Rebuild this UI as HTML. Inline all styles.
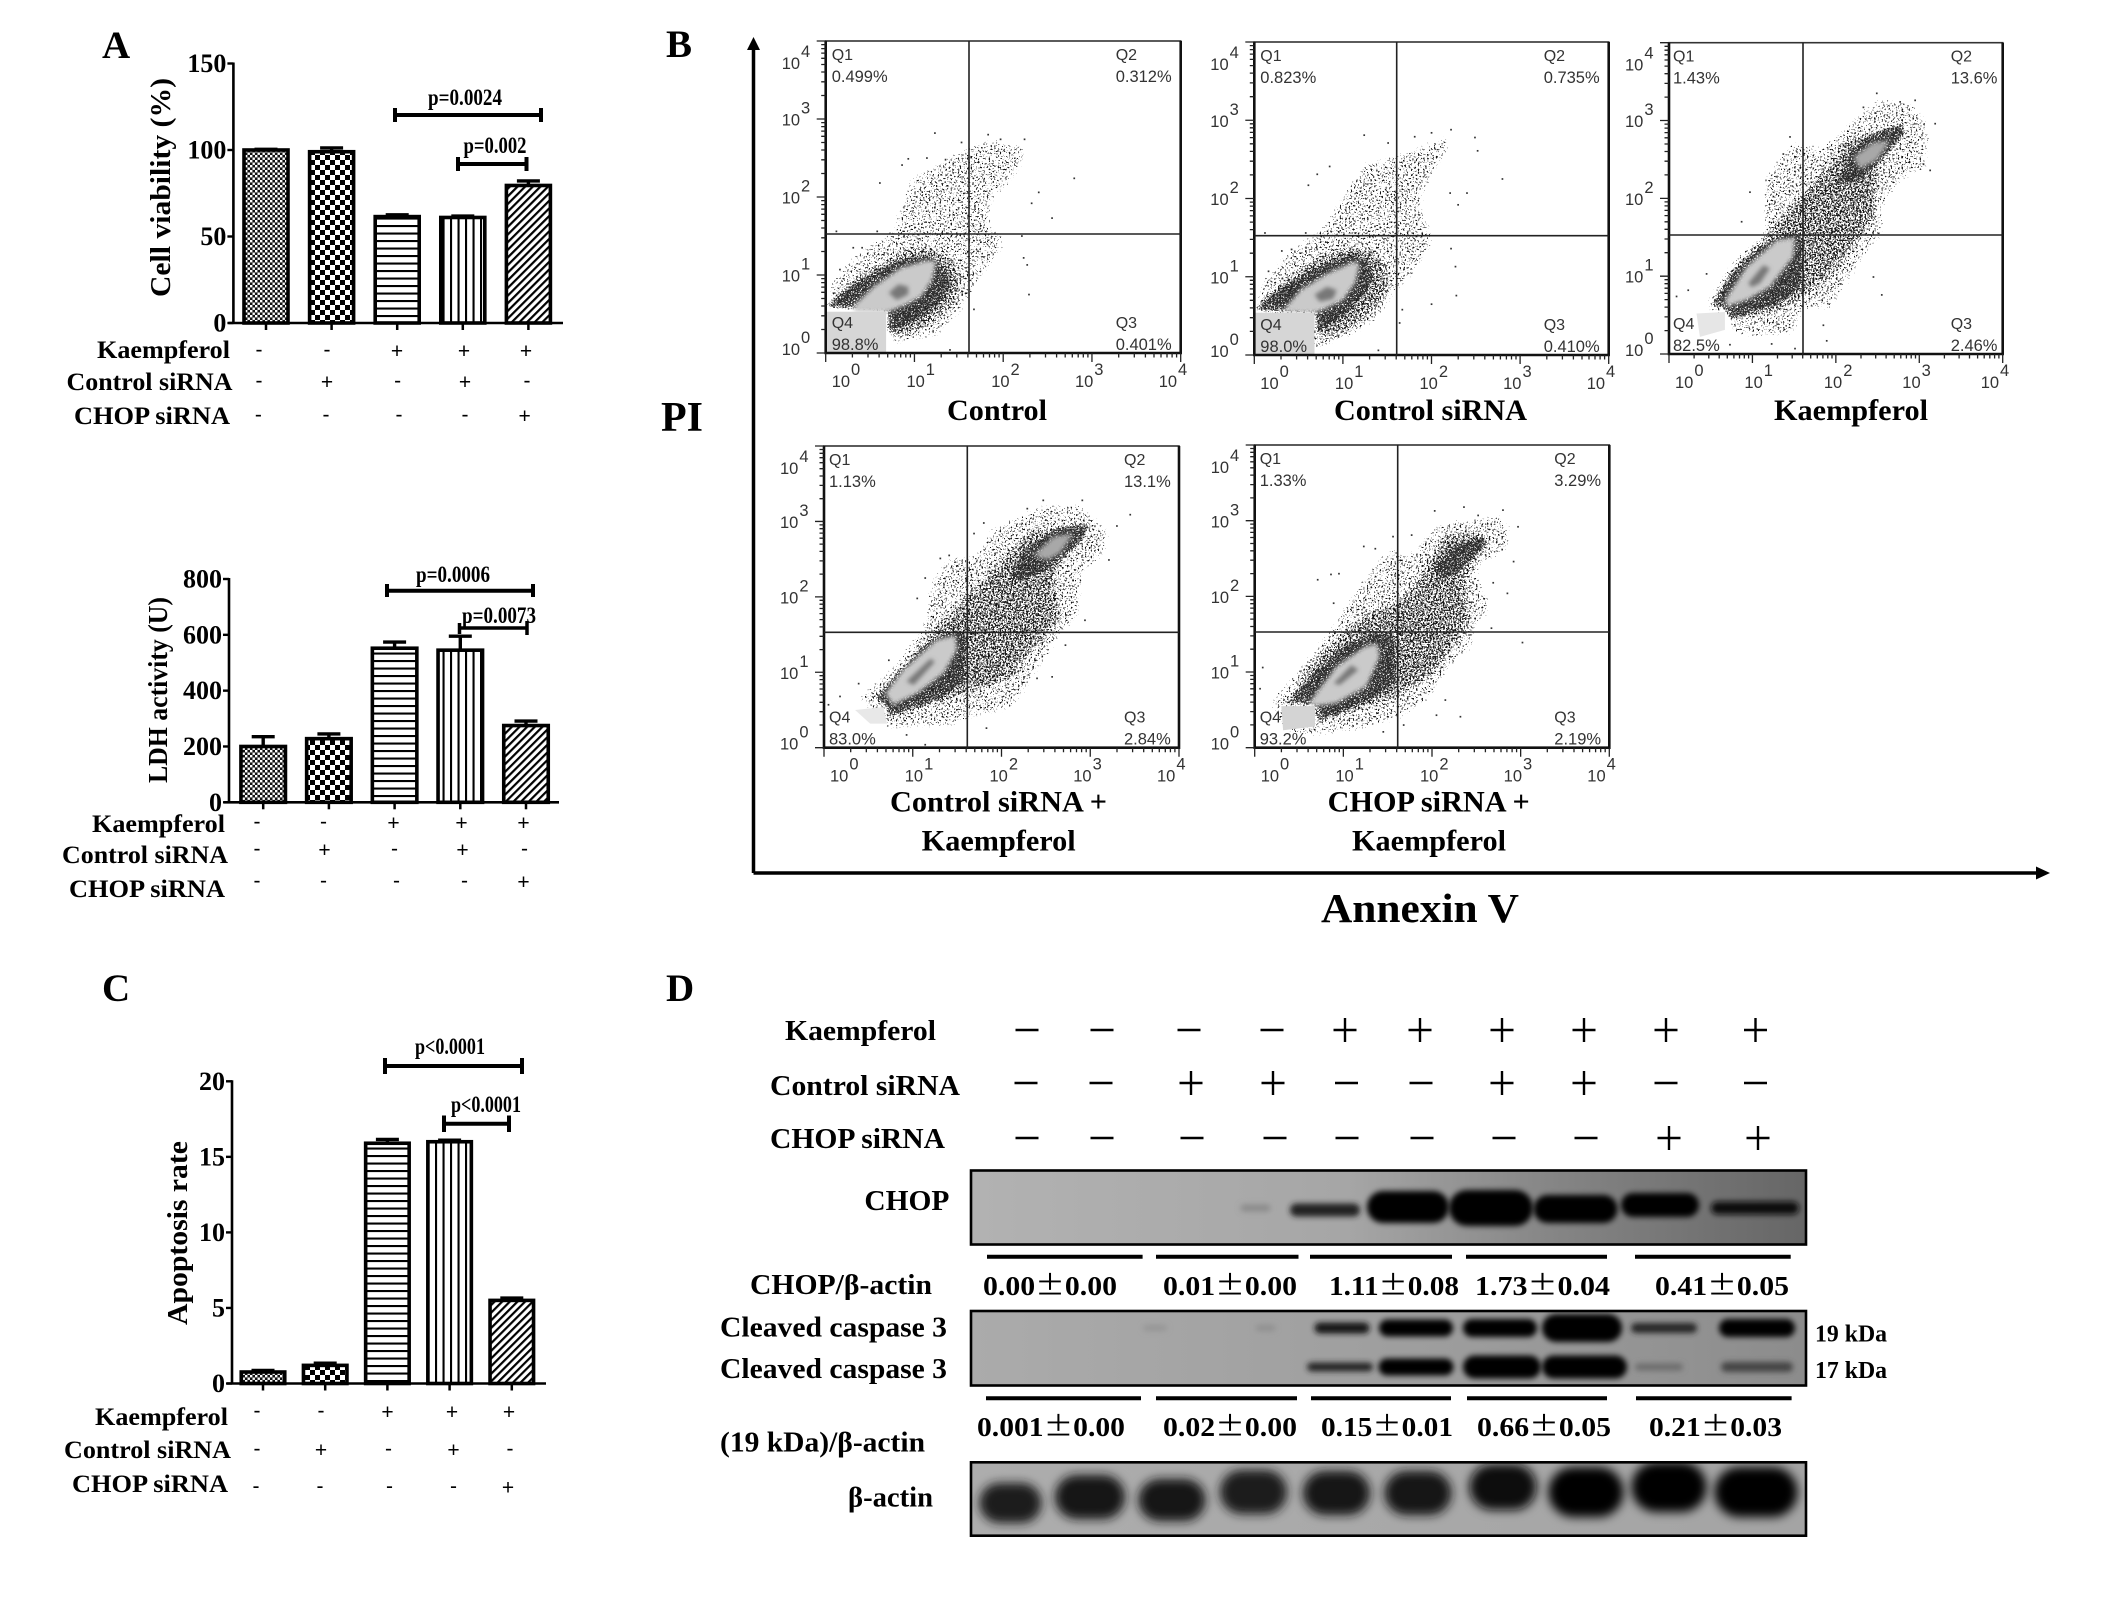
<!DOCTYPE html>
<html lang="en">
<head>
<meta charset="utf-8">
<title>Kaempferol CHOP siRNA figure</title>
<style>
html,body{margin:0;padding:0;background:#fff;}
svg{display:block;}
text{fill:#000;}
.sb{font-family:"Liberation Serif",serif;font-weight:bold;}
.ss{font-family:"Liberation Sans",sans-serif;}
</style>
</head>
<body>
<svg id="fig" xmlns="http://www.w3.org/2000/svg" width="2126" height="1602" viewBox="0 0 2126 1602">
<defs>
  <pattern id="pat-fine" width="5" height="5" patternUnits="userSpaceOnUse"><rect width="5" height="5" fill="#111"/><rect x="0" y="0" width="2.4" height="2.4" fill="#fff"/><rect x="2.5" y="2.5" width="2.4" height="2.4" fill="#fff"/></pattern>
  <pattern id="pat-coarse" width="10" height="10" patternUnits="userSpaceOnUse"><rect width="10" height="10" fill="#fff"/><rect width="5" height="5" fill="#000"/><rect x="5" y="5" width="5" height="5" fill="#000"/></pattern>
  <pattern id="pat-horizontal" width="7.5" height="7.5" patternUnits="userSpaceOnUse"><rect width="7.5" height="7.5" fill="#fff"/><rect y="0" width="7.5" height="2.1" fill="#000"/></pattern>
  <pattern id="pat-vertical" width="7.5" height="7.5" patternUnits="userSpaceOnUse"><rect width="7.5" height="7.5" fill="#fff"/><rect x="0" width="2.1" height="7.5" fill="#000"/></pattern>
  <pattern id="pat-diagonal" width="5.4" height="5.4" patternUnits="userSpaceOnUse" patternTransform="rotate(45)"><rect width="5.4" height="5.4" fill="#fff"/><rect width="2.2" height="5.4" fill="#000"/></pattern>
  <filter id="speck-sparse" x="-10%" y="-10%" width="120%" height="120%" color-interpolation-filters="sRGB">
    <feGaussianBlur in="SourceAlpha" stdDeviation="5" result="b"/>
    <feTurbulence type="fractalNoise" baseFrequency="0.55" numOctaves="2" seed="4" result="n"/>
    <feComposite in="n" in2="b" operator="arithmetic" k1="1" k2="0" k3="0" k4="0" result="m"/>
    <feColorMatrix in="m" type="matrix" values="0 0 0 0 .08 0 0 0 0 .08 0 0 0 0 .08 0 0 0 14 -8.2"/>
  </filter>
  <filter id="speck-mid" x="-10%" y="-10%" width="120%" height="120%" color-interpolation-filters="sRGB">
    <feGaussianBlur in="SourceAlpha" stdDeviation="6" result="b"/>
    <feTurbulence type="fractalNoise" baseFrequency="0.6" numOctaves="2" seed="9" result="n"/>
    <feComposite in="n" in2="b" operator="arithmetic" k1="1" k2="0" k3="0" k4="0" result="m"/>
    <feColorMatrix in="m" type="matrix" values="0 0 0 0 .1 0 0 0 0 .1 0 0 0 0 .1 0 0 0 14 -7.0"/>
  </filter>
  <filter id="speck-dense" x="-10%" y="-10%" width="120%" height="120%" color-interpolation-filters="sRGB">
    <feGaussianBlur in="SourceAlpha" stdDeviation="3" result="b"/>
    <feTurbulence type="fractalNoise" baseFrequency="0.7" numOctaves="2" seed="15" result="n"/>
    <feComposite in="n" in2="b" operator="arithmetic" k1="1" k2="0" k3="0" k4="0" result="m"/>
    <feColorMatrix in="m" type="matrix" values="0 0 0 0 .2 0 0 0 0 .2 0 0 0 0 .2 0 0 0 14 -5.6"/>
  </filter>
  <filter id="edge-soft" x="-20%" y="-20%" width="140%" height="140%"><feGaussianBlur stdDeviation="2"/></filter>
  <filter id="soft" x="-30%" y="-300%" width="160%" height="700%"><feGaussianBlur stdDeviation="3"/></filter>
  <filter id="soft-wide" x="-40%" y="-100%" width="180%" height="300%"><feGaussianBlur stdDeviation="5"/></filter>
  <linearGradient id="chop-bg"><stop offset="0" stop-color="#b2b2b2"/><stop offset=".45" stop-color="#a6a6a6"/><stop offset=".7" stop-color="#858585"/><stop offset="1" stop-color="#666"/></linearGradient>
  <linearGradient id="casp-bg"><stop offset="0" stop-color="#ababab"/><stop offset=".6" stop-color="#9c9c9c"/><stop offset="1" stop-color="#8c8c8c"/></linearGradient>
  <linearGradient id="actin-bg"><stop offset="0" stop-color="#adadad"/><stop offset="1" stop-color="#a4a4a4"/></linearGradient>
</defs>

<g id="panel-a1"></g>
<g id="panel-a2"></g>
<g id="panel-c"></g>
<g id="panel-b"></g>
<g id="panel-d"></g>

<g>
  <text class="sb" x="102" y="58" font-size="39">A</text>
  <text class="sb" x="666" y="57" font-size="39">B</text>
  <text class="sb" x="102" y="1001" font-size="39">C</text>
  <text class="sb" x="666" y="1001" font-size="39">D</text>
</g>

<!-- axis titles -->
<text class="sb" transform="translate(170,187.5) rotate(-90)" text-anchor="middle" font-size="29" textLength="219" lengthAdjust="spacingAndGlyphs">Cell viability (%)</text>
<text class="sb" transform="translate(167,690) rotate(-90)" text-anchor="middle" font-size="27" textLength="186" lengthAdjust="spacingAndGlyphs">LDH activity (U)</text>
<text class="sb" transform="translate(187,1233) rotate(-90)" text-anchor="middle" font-size="28" textLength="184" lengthAdjust="spacingAndGlyphs">Apoptosis rate</text>

<!-- significance brackets -->
<g fill="none" stroke="#000">
  <path d="M395 108V122M395 115H541M541 108V122" stroke-width="4"/>
  <path d="M458 157V171M458 164H526.5M526.5 157V171" stroke-width="4"/>
  <path d="M387 584V597M387 590.7H533M533 584V597" stroke-width="4"/>
  <path d="M459.5 623V634M459.5 628H527M527 621V635" stroke-width="3.5"/>
  <path d="M385 1058V1074M385 1066H522M522 1058V1074" stroke-width="4"/>
  <path d="M444 1115.5V1132M444 1123.7H509M509 1115.5V1132" stroke-width="4"/>
</g>
<g class="sb" font-size="23" text-anchor="middle">
  <text x="465" y="105" textLength="74" lengthAdjust="spacingAndGlyphs">p=0.0024</text>
  <text x="495" y="153" textLength="63" lengthAdjust="spacingAndGlyphs">p=0.002</text>
  <text x="453" y="582" textLength="74" lengthAdjust="spacingAndGlyphs">p=0.0006</text>
  <text x="499" y="623" textLength="74" lengthAdjust="spacingAndGlyphs">p=0.0073</text>
  <text x="450" y="1054" textLength="70" lengthAdjust="spacingAndGlyphs">p&lt;0.0001</text>
  <text x="486" y="1112" textLength="70" lengthAdjust="spacingAndGlyphs">p&lt;0.0001</text>
</g>

<!-- treatment row labels, bar charts -->
<g class="sb" font-size="25">
  <text x="97" y="358" textLength="133" lengthAdjust="spacingAndGlyphs">Kaempferol</text>
  <text x="66.5" y="390" textLength="166" lengthAdjust="spacingAndGlyphs">Control siRNA</text>
  <text x="74" y="424" textLength="156" lengthAdjust="spacingAndGlyphs">CHOP siRNA</text>
  <text x="92" y="832" textLength="133" lengthAdjust="spacingAndGlyphs">Kaempferol</text>
  <text x="62" y="863" textLength="166" lengthAdjust="spacingAndGlyphs">Control siRNA</text>
  <text x="69" y="897" textLength="156" lengthAdjust="spacingAndGlyphs">CHOP siRNA</text>
  <text x="95" y="1425" textLength="133" lengthAdjust="spacingAndGlyphs">Kaempferol</text>
  <text x="64" y="1458" textLength="167" lengthAdjust="spacingAndGlyphs">Control siRNA</text>
  <text x="72" y="1492" textLength="156" lengthAdjust="spacingAndGlyphs">CHOP siRNA</text>
</g>

<!-- flow panel annotations -->
<g stroke="#000" fill="#000">
  <path d="M753.5 873V46" stroke-width="3.5" fill="none"/>
  <path d="M753.5 37L747 50H760Z" stroke="none"/>
  <path d="M753.5 873H2040" stroke-width="3.5" fill="none"/>
  <path d="M2050 873L2036 866.5V879.5Z" stroke="none"/>
</g>
<text class="sb" x="661" y="431" font-size="42">PI</text>
<text class="sb" x="1321" y="922" font-size="41" textLength="198" lengthAdjust="spacingAndGlyphs">Annexin V</text>
<g class="sb" font-size="30">
  <text x="947" y="420" textLength="100" lengthAdjust="spacingAndGlyphs">Control</text>
  <text x="1334" y="420" textLength="193" lengthAdjust="spacingAndGlyphs">Control siRNA</text>
  <text x="1774" y="420" textLength="154" lengthAdjust="spacingAndGlyphs">Kaempferol</text>
  <text x="890" y="811.7" textLength="217" lengthAdjust="spacingAndGlyphs">Control siRNA +</text>
  <text x="921.7" y="850.7" textLength="154" lengthAdjust="spacingAndGlyphs">Kaempferol</text>
  <text x="1327.7" y="811.7" textLength="202" lengthAdjust="spacingAndGlyphs">CHOP siRNA +</text>
  <text x="1352" y="850.7" textLength="154" lengthAdjust="spacingAndGlyphs">Kaempferol</text>
</g>

<!-- western blot labels -->
<g class="sb" font-size="28">
  <text x="785" y="1040" textLength="151" lengthAdjust="spacingAndGlyphs">Kaempferol</text>
  <text x="770" y="1095" textLength="190" lengthAdjust="spacingAndGlyphs">Control siRNA</text>
  <text x="770" y="1148" textLength="175" lengthAdjust="spacingAndGlyphs">CHOP siRNA</text>
  <text x="864.4" y="1210" textLength="85" lengthAdjust="spacingAndGlyphs">CHOP</text>
  <text x="750" y="1294" textLength="182" lengthAdjust="spacingAndGlyphs">CHOP/β-actin</text>
  <text x="720" y="1336.7" textLength="227" lengthAdjust="spacingAndGlyphs">Cleaved caspase 3</text>
  <text x="720" y="1378" textLength="227" lengthAdjust="spacingAndGlyphs">Cleaved caspase 3</text>
  <text x="720" y="1451.7" textLength="205" lengthAdjust="spacingAndGlyphs">(19 kDa)/β-actin</text>
  <text x="848" y="1506.7" textLength="85" lengthAdjust="spacingAndGlyphs">β-actin</text>
  <text x="1815" y="1341.7" font-size="24" textLength="72" lengthAdjust="spacingAndGlyphs">19 kDa</text>
  <text x="1815" y="1378" font-size="24" textLength="72" lengthAdjust="spacingAndGlyphs">17 kDa</text>
</g>

<script>
// ---- bar chart data ----
const categories = ['Control', 'Control siRNA', 'Kaempferol', 'Control siRNA + Kaempferol', 'CHOP siRNA + Kaempferol'];
const barPatterns = ['pat-fine', 'pat-coarse', 'pat-horizontal', 'pat-vertical', 'pat-diagonal'];
const viabilityMeans = [100, 99, 61.5, 61, 79.5];
const viabilityErrors = [0.4, 2.2, 1, 0.8, 2.6];
const viabilityTicks = [0, 50, 100, 150];
const ldhMeans = [200, 228, 552, 545, 275];
const ldhErrors = [35, 17, 22, 50, 16];
const ldhTicks = [0, 200, 400, 600, 800];
const apoptosisMeans = [0.76, 1.2, 15.9, 16, 5.5];
const apoptosisErrors = [0.1, 0.14, 0.25, 0.1, 0.15];
const apoptosisTicks = [0, 5, 10, 15, 20];
const kaempferolSigns = ['-', '-', '+', '+', '+'];
const controlSirnaSigns = ['-', '+', '-', '+', '-'];
const chopSirnaSigns = ['-', '-', '-', '-', '+'];

// ---- flow cytometry regions and events: log10 (Annexin V), log10 (PI) ----
const controlOuter = [[0,.90],[.31,1.32],[.71,1.58],[.80,1.88],[.91,2.26],[1.44,2.61],[1.82,2.80],[2.27,2.71],[2.29,2.48],[2.12,2.16],[1.93,1.97],[1.89,1.67],[2.06,1.54],[2.04,1.32],[1.82,.98],[1.63,.60],[1.29,.17],[.71,.04],[.68,.5],[0,.5]];
const controlMid = [[0,.71],[.27,1.0],[.61,1.22],[.91,1.41],[1.21,1.43],[1.48,1.24],[1.61,.98],[1.55,.68],[1.36,.43],[1.10,.24],[.84,.15],[.68,.11],[.68,.53],[0,.56]];
const controlDark = [[0,.64],[.31,.92],[.65,1.13],[.95,1.26],[1.21,1.26],[1.36,1.11],[1.44,.90],[1.33,.64],[1.10,.43],[.84,.28],[.68,.21],[.68,.53],[0,.56]];
const controlLight = [[.31,.60],[.54,.85],[.84,1.09],[1.14,1.19],[1.25,1.18],[1.20,.94],[1.08,.73],[.91,.62],[.69,.52],[.33,.53]];
const controlCore = [[.71,.77],[.82,.88],[.93,.85],[.93,.75],[.80,.68]];
const controlBlock = [[0,.53],[.68,.53],[.68,0],[0,0]];
const controlEvents = [[1.23,2.82],[.61,2.18],[.86,2.41],[.93,2.49],[2.80,2.24],[2.55,1.73],[2.40,2.06],[2.32,1.92],[2.29,.75],[2.27,1.13],[2.23,1.22],[2.21,1.50],[.12,1.56],[.58,1.56],[1.40,.04],[1.67,.56],[1.83,2.80],[2.24,2.74],[1.97,2.74],[1.53,2.70],[1.14,2.50],[1.35,2.48],[.31,1.35],[.41,1.35],[.16,1.07]];

const sirnaOuter = [[0,.92],[.33,1.34],[.70,1.64],[.97,2.07],[1.19,2.49],[1.64,2.62],[2.21,2.88],[2.25,2.62],[2.10,2.37],[1.93,1.98],[1.98,1.77],[2.08,1.51],[2.02,1.30],[1.83,1.0],[1.61,.75],[1.49,.49],[1.12,.19],[.68,.02],[0,.53]];
const sirnaMid = [[0,.70],[.29,1.0],[.70,1.34],[1.04,1.45],[1.34,1.43],[1.53,1.22],[1.61,.92],[1.49,.62],[1.23,.36],[.97,.19],[.68,.09],[.68,.54],[0,.54]];
const sirnaDark = [[0,.62],[.33,.92],[.74,1.17],[1.12,1.32],[1.29,1.24],[1.38,1.0],[1.27,.75],[1.0,.45],[.68,.23],[.68,.54],[0,.54]];
const sirnaLight = [[.31,.55],[.52,.83],[.82,1.04],[1.12,1.19],[1.19,1.17],[1.14,.92],[1.0,.70],[.78,.58],[.68,.54]];
const sirnaCore = [[.68,.77],[.82,.87],[.93,.83],[.89,.72],[.74,.68]];
const sirnaBlock = [[0,.54],[.68,.54],[.68,0],[0,0]];
const sirnaEvents = [[1.24,2.81],[1.81,2.79],[2.0,2.84],[2.22,2.88],[2.49,2.78],[2.52,2.61],[2.80,2.25],[2.40,2.07],[2.30,1.92],[2.21,2.07],[.71,2.31],[.61,2.17],[.85,2.41],[.12,1.56],[.58,1.56],[2.22,1.36],[2.27,1.13],[2.28,.76],[2.0,.65],[1.64,.41],[1.67,.58],[1.40,.06],[.31,1.33],[.42,1.35],[.16,1.07],[1.51,2.71]];

const kaempOuter = [[.41,.69],[.73,1.25],[1.09,1.55],[1.09,2.27],[1.45,2.79],[1.81,2.70],[2.13,3.0],[2.49,3.34],[2.95,3.26],[3.17,2.96],[3.13,2.32],[2.85,2.23],[2.61,1.89],[2.61,1.50],[2.37,1.21],[2.17,.86],[1.97,.52],[1.61,.52],[1.53,.18],[.73,.18],[.69,.44],[.41,.52]];
const kaempMid = [[.43,.67],[.73,1.16],[1.01,1.46],[1.33,1.85],[1.77,2.36],[2.05,2.79],[2.41,2.91],[2.85,3.02],[2.85,2.74],[2.57,2.40],[2.53,1.72],[2.29,1.38],[1.97,.91],[1.61,.65],[1.29,.48],[.77,.37],[.69,.56]];
const kaempDark = [[.47,.61],[.73,1.03],[1.09,1.42],[1.49,1.59],[1.63,1.50],[1.61,.86],[1.33,.61],[.93,.48],[.71,.41],[.67,.56]];
const kaempDarkUpper = [[1.97,2.15],[2.13,2.57],[2.37,2.83],[2.81,3.0],[2.85,2.83],[2.53,2.44],[2.29,2.19]];
const kaempGrayUpper = [[2.21,2.53],[2.45,2.72],[2.65,2.74],[2.49,2.49],[2.29,2.38]];
const kaempLight = [[.67,.69],[.93,1.12],[1.29,1.46],[1.51,1.50],[1.49,1.25],[1.21,.86],[.93,.69],[.69,.61]];
const kaempCore = [[.95,.91],[1.13,1.14],[1.21,1.10],[1.09,.91],[.99,.86]];
const kaempBlock = [[.33,.52],[.67,.54],[.67,.31],[.37,.22]];
const kaempEvents = [[2.49,3.35],[2.95,3.26],[3.19,2.96],[3.13,2.36],[3.05,2.44],[1.45,2.79],[.97,2.08],[.87,1.70],[2.55,.76],[2.45,.99],[1.89,.17],[1.51,.07],[1.23,.13],[.45,1.03],[.23,.82],[.09,.74],[.73,.12],[1.85,.37],[2.77,3.24],[2.33,3.17],[1.37,2.57]];

const comboOuter = [[.33,.68],[.78,1.16],[1.08,1.65],[1.16,2.22],[1.38,2.58],[1.68,2.58],[1.83,2.93],[2.47,3.28],[2.92,3.28],[3.26,2.89],[3.19,2.49],[2.96,2.31],[2.92,1.74],[2.66,1.38],[2.40,.90],[2.14,.46],[1.61,.32],[1.53,.23],[.71,.19],[.41,.54]];
const comboMid = [[.52,.68],[.86,1.16],[1.16,1.56],[1.57,2.09],[1.98,2.58],[2.32,2.97],[3.04,3.02],[2.96,2.71],[2.66,2.31],[2.74,1.69],[2.47,1.34],[2.14,.85],[1.72,.68],[1.35,.54],[.71,.32],[.67,.54]];
const comboDark = [[.54,.65],[.86,1.07],[1.16,1.43],[1.53,1.60],[1.63,1.47],[1.61,.85],[1.31,.63],[.78,.41],[.71,.32],[.69,.54]];
const comboDarkUpper = [[2.06,2.22],[2.21,2.62],[2.59,2.93],[3.04,3.02],[2.92,2.71],[2.59,2.40],[2.25,2.18]];
const comboGrayUpper = [[2.36,2.55],[2.59,2.80],[2.81,2.84],[2.66,2.58],[2.51,2.49]];
const comboLight = [[.69,.72],[.89,1.03],[1.27,1.43],[1.48,1.49],[1.50,1.30],[1.35,.99],[1.05,.72],[.78,.57]];
const comboCore = [[.93,.88],[1.20,1.18],[1.25,1.14],[1.01,.83]];
const comboBlock = [[.35,.50],[.67,.54],[.71,.32],[.52,.32]];
const comboEvents = [[3.45,3.09],[3.30,2.94],[2.91,3.28],[2.47,3.28],[2.29,3.17],[1.80,2.98],[1.69,2.84],[1.41,2.55],[1.31,2.51],[1.05,1.98],[1.14,2.25],[2.57,.94],[2.40,.92],[2.72,1.36],[3.21,2.49],[.05,.57],[.18,.68],[.39,.85],[.73,1.16],[1.83,.26],[1.14,.04],[.93,.17],[2.94,1.69]];

const chopOuter = [[.10,.59],[.55,1.20],[.89,1.73],[1.19,2.26],[1.53,2.74],[1.71,2.57],[2.05,3.01],[2.80,3.14],[2.95,2.92],[2.88,2.57],[2.54,2.35],[2.73,1.86],[2.54,1.56],[2.50,1.29],[2.24,1.03],[2.02,.63],[1.64,.32],[1.23,.19],[.70,.10],[.32,.15]];
const chopMid = [[.29,.59],[.62,1.20],[.96,1.56],[1.26,1.86],[1.60,2.0],[1.79,2.26],[2.13,2.92],[2.62,2.92],[2.73,2.70],[2.43,2.26],[2.50,1.64],[2.09,.94],[1.60,.59],[1.11,.41],[.70,.28],[.68,.54]];
const chopDark = [[.32,.56],[.59,.94],[1.0,1.38],[1.38,1.56],[1.60,1.51],[1.62,.85],[1.30,.59],[.92,.41],[.70,.30],[.68,.55]];
const chopDarkUpper = [[1.98,2.39],[2.24,2.70],[2.58,2.83],[2.65,2.68],[2.32,2.30],[2.13,2.17]];
const chopLight = [[.61,.59],[.92,1.07],[1.23,1.33],[1.38,1.38],[1.41,1.20],[1.26,.81],[.92,.59],[.68,.55]];
const chopCore = [[.89,.85],[1.09,1.09],[1.17,1.03],[.96,.83]];
const chopBlock = [[.30,.55],[.68,.55],[.68,.28],[.32,.23]];
const chopEvents = [[2.03,3.13],[2.36,3.18],[2.80,3.14],[2.97,2.92],[2.92,2.46],[2.85,2.04],[3.02,1.39],[2.69,2.18],[2.32,.41],[2.05,.43],[2.15,.63],[.71,2.22],[.86,2.29],[.95,2.30],[1.23,2.66],[1.36,2.63],[1.56,2.79],[1.77,2.81],[.09,1.06],[.06,.78],[.89,1.91],[1.68,.30],[1.45,.21],[2.67,1.58],[2.52,3.07]];

const quadrantControl = ['0.499%', '0.312%', '0.401%', '98.8%'];
const quadrantSirna = ['0.823%', '0.735%', '0.410%', '98.0%'];
const quadrantKaempferol = ['1.43%', '13.6%', '2.46%', '82.5%'];
const quadrantCombo = ['1.13%', '13.1%', '2.84%', '83.0%'];
const quadrantChop = ['1.33%', '3.29%', '2.19%', '93.2%'];

// ---- western blot: treatment signs, densitometry, band shapes ----
const blotKaempferol = ['-','-','-','-','+','+','+','+','+','+'];
const blotControlSirna = ['-','-','+','+','-','-','+','+','-','-'];
const blotChopSirna = ['-','-','-','-','-','-','-','-','+','+'];
const chopRatios = ['0.00', '0.01', '1.11', '1.73', '0.41'];
const chopRatioErrors = ['0.00', '0.00', '0.08', '0.04', '0.05'];
const caspaseRatios = ['0.001', '0.02', '0.15', '0.66', '0.21'];
const caspaseRatioErrors = ['0.00', '0.00', '0.01', '0.05', '0.03'];

const NS = 'http://www.w3.org/2000/svg';
function make(tag, parent, attrs) {
  const el = document.createElementNS(NS, tag);
  for (const k in attrs) el.setAttribute(k, attrs[k]);
  parent.appendChild(el);
  return el;
}

// ---- bar charts ----
function drawBarChart(cfg) {
  const g = document.getElementById(cfg.id);
  const yOf = v => cfg.yZero - v / cfg.yMax * (cfg.yZero - cfg.yTop);
  const xOf = i => cfg.xFirst + i * cfg.xStep;

  cfg.means.forEach((m, i) => {
    const cx = xOf(i);
    const top = yOf(m + cfg.errors[i]);
    const stem = make('path', g, {d: `M${cx} ${yOf(m)}V${top}M${cx - 11.5} ${top}H${cx + 11.5}`, stroke: '#000', 'stroke-width': 3.4, fill: 'none'});
    
    
    const bar = make('rect', g, {x: cx - cfg.barW / 2, y: yOf(m), width: cfg.barW, height: cfg.yZero - yOf(m), fill: `url(#${barPatterns[i]})`, stroke: '#000', 'stroke-width': 3.6});
    
    
    const tick = make('line', g, {x1: cx, x2: cx, y1: cfg.yZero, y2: cfg.yZero + 7, stroke: '#000', 'stroke-width': 2.5});
    
    
  });

  const yAxis = make('line', g, {x1: cfg.axisX, x2: cfg.axisX, y1: cfg.yTop - 1, y2: cfg.yZero + 1, stroke: '#000', 'stroke-width': 2.6});
  
  
  const xAxis = make('line', g, {x1: cfg.axisX - 5, x2: cfg.xEnd, y1: cfg.yZero, y2: cfg.yZero, stroke: '#000', 'stroke-width': 2.6});
  
  

  cfg.ticks.forEach(v => {
    const t = make('line', g, {x1: cfg.axisX - 6, x2: cfg.axisX, y1: yOf(v), y2: yOf(v), stroke: '#000', 'stroke-width': 2.4});
    
    
    const lab = make('text', g, {x: cfg.axisX - 7, y: yOf(v) + 8.5, 'text-anchor': 'end', class: 'sb', 'font-size': 26});
    
    
    lab.textContent = v;
  });

  [kaempferolSigns, controlSirnaSigns, chopSirnaSigns].forEach((row, r) => {
    row.forEach((s, i) => {
      const plus = s === '+';
      const sign = make('text', g, {x: cfg.signX[r][i], y: cfg.signY[r] + (plus ? 7 : 5.5), 'text-anchor': 'middle', class: 'ss', 'font-size': 21});
      
      
      sign.textContent = s;
    });
  });
}

drawBarChart({id: 'panel-a1', key: 'viability', means: viabilityMeans, errors: viabilityErrors, ticks: viabilityTicks, yMax: 150, yZero: 323, yTop: 63.5, axisX: 233.4, xFirst: 266, xStep: 65.6, barW: 44, xEnd: 563,
  signX: [[259, 327, 397, 464, 526], [259, 327, 397.6, 465, 527], [258.4, 326, 399, 465, 524.6]], signY: [351, 382, 416]});
drawBarChart({id: 'panel-a2', key: 'ldh', means: ldhMeans, errors: ldhErrors, ticks: ldhTicks, yMax: 800, yZero: 802.3, yTop: 579, axisX: 229, xFirst: 263.2, xStep: 65.7, barW: 44.5, xEnd: 559,
  signX: [[257, 323.5, 393.5, 461.5, 523.5], [257, 324.5, 394.5, 462.5, 524.5], [257, 323.5, 396.5, 464.5, 523.5]], signY: [823, 850, 882]});
drawBarChart({id: 'panel-c', key: 'apoptosis', means: apoptosisMeans, errors: apoptosisErrors, ticks: apoptosisTicks, yMax: 20, yZero: 1383.5, yTop: 1081.3, axisX: 232, xFirst: 263, xStep: 62.2, barW: 43.5, xEnd: 546,
  signX: [[257, 321, 387.5, 452, 509], [257, 321, 388.5, 453.5, 510], [256, 320, 389.5, 453.5, 508]], signY: [1412, 1450, 1487.6]});

// ---- flow cytometry plots ----
const flowPlots = [
  {key: 'control', x0: 825.7, x1: 1180.7, y0: 41, y1: 353, vx: 969, hy: 234, qLeft: 6, qRight: 65, outer: controlOuter, mid: controlMid, dark: controlDark, darkUpper: null, grayUpper: null, light: controlLight, core: controlCore, block: controlBlock, blockFill: '#d6d6d6', events: controlEvents, quad: quadrantControl},
  {key: 'control-sirna', x0: 1254.3, x1: 1608.7, y0: 42, y1: 355, vx: 1396.7, hy: 235.7, qLeft: 6, qRight: 65, outer: sirnaOuter, mid: sirnaMid, dark: sirnaDark, darkUpper: null, grayUpper: null, light: sirnaLight, core: sirnaCore, block: sirnaBlock, blockFill: '#d6d6d6', events: sirnaEvents, quad: quadrantSirna},
  {key: 'kaempferol', x0: 1669, x1: 2002.7, y0: 42.7, y1: 354, vx: 1803, hy: 235, qLeft: 4, qRight: 52, outer: kaempOuter, mid: kaempMid, dark: kaempDark, darkUpper: kaempDarkUpper, grayUpper: kaempGrayUpper, light: kaempLight, core: kaempCore, block: kaempBlock, blockFill: '#e6e6e6', events: kaempEvents, quad: quadrantKaempferol},
  {key: 'combo', x0: 824, x1: 1179, y0: 446, y1: 747.7, vx: 967.3, hy: 632.3, qLeft: 5, qRight: 55, outer: comboOuter, mid: comboMid, dark: comboDark, darkUpper: comboDarkUpper, grayUpper: comboGrayUpper, light: comboLight, core: comboCore, block: comboBlock, blockFill: '#e8e8e8', events: comboEvents, quad: quadrantCombo},
  {key: 'chop', x0: 1254.7, x1: 1609.3, y0: 445, y1: 747.7, vx: 1397.7, hy: 632, qLeft: 5, qRight: 55, outer: chopOuter, mid: chopMid, dark: chopDark, darkUpper: chopDarkUpper, grayUpper: null, light: chopLight, core: chopCore, block: chopBlock, blockFill: '#d4d4d4', events: chopEvents, quad: quadrantChop}
];
const decades = [0, 1, 2, 3, 4];
const minorMultipliers = [2, 3, 4, 5, 6, 7, 8, 9];
const xLabelShift = [6, -8, -12, -17, -22];
const yLabelShift = [2, 6.5, 6.7, 6.7, 28];

function drawFlowPlot(p) {
  const root = document.getElementById('panel-b');
  const g = make('g', root, {});
  
  
  const X = v => p.x0 + v / 4 * (p.x1 - p.x0);
  const Y = v => p.y1 - v / 4 * (p.y1 - p.y0);
  const pts = arr => arr.map(q => X(q[0]).toFixed(1) + ',' + Y(q[1]).toFixed(1)).join(' ');

  const clip = make('clipPath', g, {id: 'clip-' + p.key});
  make('rect', clip, {x: p.x0, y: p.y0, width: p.x1 - p.x0, height: p.y1 - p.y0});
  const plotArea = make('g', g, {'clip-path': `url(#clip-${p.key})`});

  const outer = make('polygon', plotArea, {points: pts(p.outer), fill: '#000', filter: 'url(#speck-sparse)'});
  
  
  const mid = make('polygon', plotArea, {points: pts(p.mid), fill: '#000', filter: 'url(#speck-mid)'});
  
  
  const dark = make('polygon', plotArea, {points: pts(p.dark), fill: '#000', filter: 'url(#speck-dense)'});
  
  
  if (p.darkUpper) {
    const du = make('polygon', plotArea, {points: pts(p.darkUpper), fill: '#000', filter: 'url(#speck-dense)'});
    
    
  }
  if (p.grayUpper) {
    const gu = make('polygon', plotArea, {points: pts(p.grayUpper), fill: '#a8a8a8', filter: 'url(#edge-soft)'});
    
    
  }
  const light = make('polygon', plotArea, {points: pts(p.light), fill: '#cacaca', filter: 'url(#edge-soft)'});
  
  
  const core = make('polygon', plotArea, {points: pts(p.core), fill: '#777', filter: 'url(#edge-soft)'});
  
  
  const block = make('polygon', plotArea, {points: pts(p.block), fill: p.blockFill});
  
  

  p.events.forEach((e, i) => {
    const dot = make('rect', plotArea, {x: X(e[0]) - .8, y: Y(e[1]) - .8, width: 1.7, height: 1.7, fill: '#333'});
    
    
  });

  const frame = make('rect', g, {x: p.x0, y: p.y0, width: p.x1 - p.x0, height: p.y1 - p.y0, fill: 'none', stroke: '#333', 'stroke-width': 1.6});
  
  
  const spines = make('path', g, {d: `M${p.x0} ${p.y0}V${p.y1}H${p.x1}V${p.y0}`, fill: 'none', stroke: '#111', 'stroke-width': 2.6});
  
  
  const vGate = make('line', g, {x1: p.vx, x2: p.vx, y1: p.y0, y2: p.y1, stroke: '#222', 'stroke-width': 1.6});
  
  
  const hGate = make('line', g, {x1: p.x0, x2: p.x1, y1: p.hy, y2: p.hy, stroke: '#222', 'stroke-width': 1.6});
  
  

  let tickPath = '';
  decades.forEach(d => {
    tickPath += `M${X(d)} ${p.y1}v9M${p.x0} ${Y(d)}h-9`;
    if (d < 4) minorMultipliers.forEach(m => {
      const v = d + Math.log10(m);
      tickPath += `M${X(v).toFixed(1)} ${p.y1}v4.5M${p.x0} ${Y(v).toFixed(1)}h-4.5`;
    });
  });
  const ticks = make('path', g, {d: tickPath, stroke: '#222', 'stroke-width': 1.3, fill: 'none'});
  
  

  decades.forEach(d => {
    const xl = make('text', g, {x: X(d) + xLabelShift[d], y: p.y1 + 34, class: 'ss', 'font-size': 16.5, style: 'fill:#333'});
    
    
    xl.textContent = '10';
    const xs = make('tspan', xl, {dx: 1, dy: -12});
    xs.textContent = d;
    const yl = make('text', g, {x: p.x0 - 44, y: Y(d) + yLabelShift[d], class: 'ss', 'font-size': 16.5, style: 'fill:#333'});
    
    
    yl.textContent = '10';
    const ys = make('tspan', yl, {dx: 1, dy: -12});
    ys.textContent = d;
  });

  const names = ['Q1', 'Q2', 'Q3', 'Q4'];
  const qx = [p.x0 + p.qLeft, p.x1 - p.qRight, p.x1 - p.qRight, p.x0 + p.qLeft];
  const qTop = [true, true, false, false];
  names.forEach((n, i) => {
    const nameY = qTop[i] ? p.y0 + 19 : p.y1 - 25;
    const valY = qTop[i] ? p.y0 + 41 : p.y1 - 3;
    const qn = make('text', g, {x: qx[i], y: nameY, class: 'ss', 'font-size': 16, style: 'fill:#333'});
    
    
    qn.textContent = n;
    const qv = make('text', g, {x: qx[i], y: valY, class: 'ss', 'font-size': 16.5, style: 'fill:#333'});
    
    
    qv.textContent = p.quad[i];
  });
}
flowPlots.forEach(drawFlowPlot);

// ---- western blots ----
const chopBands = [[1255.5,1208,30,7,'#8a8a8a'],[1325,1210,70,13,'#222'],[1408,1207,82,32,'#000'],[1491,1208,84,36,'#000'],[1575.5,1209,84,28,'#000'],[1660,1205,78,24,'#000'],[1755,1208,88,13,'#111']];
const caspaseBands = [[1155,1328,24,6,'#959595'],[1265.6,1328,20,6,'#8f8f8f'],[1342,1328,55,11,'#161616'],[1416,1328,74,17,'#000'],[1500,1328,74,18,'#000'],[1582,1328,80,28,'#000'],[1664,1328,66,10,'#262626'],[1757,1328,76,18,'#000'],[1340,1367,66,9,'#262626'],[1416,1367,75,17,'#000'],[1502,1367,78,23,'#000'],[1584.5,1367,85,23,'#000'],[1659,1367,48,7,'#6c6c6c'],[1757,1367,72,10,'#444']];
const actinBands = [[1010.5,1503,62,40,'#1c1c1c'],[1090,1497,70,44,'#181818'],[1172,1500,67,42,'#181818'],[1253.5,1492,67,44,'#1c1c1c'],[1336.5,1493,67,44,'#141414'],[1418,1493,67,44,'#181818'],[1503,1487,67,46,'#0c0c0c'],[1586,1492,75,50,'#060606'],[1669,1487,75,50,'#000'],[1756,1492,83,50,'#060606']];
const chopSeparators = [[987,1142.6],[1156,1298.5],[1310,1452],[1466,1607],[1635,1790.7]];
const caspaseSeparators = [[986,1141],[1156,1297],[1311,1451],[1467,1607],[1636,1791.6]];
const chopValueX = [[983,134],[1163,134],[1329,130],[1475,135],[1655,134]];
const caspaseValueX = [[977,148],[1163,134],[1321,132],[1477,134],[1649,133]];
const signColumns = [[1027,1102,1189,1272,1345,1420,1502,1584,1666,1755.5],[1026,1101,1191,1273,1346.5,1421,1502,1584,1666,1755.5],[1027,1102,1192,1275,1347,1422,1504,1586,1669,1758]];
const signRowsY = [1030,1083,1138];

function drawBlot(key, top, bottom, fill, bands, blur) {
  const root = document.getElementById('panel-d');
  const g = make('g', root, {});
  
  
  const clip = make('clipPath', g, {id: 'blot-clip-' + key});
  make('rect', clip, {x: 971, y: top, width: 835, height: bottom - top});
  const bg = make('rect', g, {x: 971, y: top, width: 835, height: bottom - top, fill: fill});
  
  
  const inner = make('g', g, {'clip-path': `url(#blot-clip-${key})`});
  bands.forEach((b, i) => {
    const band = make('rect', inner, {x: b[0] - b[2] / 2, y: b[1] - b[3] / 2, width: b[2], height: b[3], rx: b[3] / 2, fill: b[4], filter: `url(#${blur})`});
    
    
  });
  const frame = make('rect', g, {x: 971, y: top, width: 835, height: bottom - top, fill: 'none', stroke: '#000', 'stroke-width': 2.6});
  
  
}
drawBlot('chop', 1170.5, 1244.5, 'url(#chop-bg)', chopBands, 'soft');
drawBlot('caspase', 1311, 1385.5, 'url(#casp-bg)', caspaseBands, 'soft');
drawBlot('actin', 1462.3, 1535.7, 'url(#actin-bg)', actinBands, 'soft-wide');

const panelD = document.getElementById('panel-d');
[blotKaempferol, blotControlSirna, blotChopSirna].forEach((row, r) => {
  row.forEach((s, i) => {
    const cx = signColumns[r][i];
    const cy = signRowsY[r];
    const d = s === '+' ? `M${cx - 11.5} ${cy}H${cx + 11.5}M${cx} ${cy - 12}V${cy + 12}` : `M${cx - 11.5} ${cy}H${cx + 11.5}`;
    const sign = make('path', panelD, {d: d, stroke: '#000', 'stroke-width': 2.4, fill: 'none'});
    
    
  });
});
chopSeparators.forEach((s, i) => {
  const sep = make('line', panelD, {x1: s[0], x2: s[1], y1: 1256.7, y2: 1256.7, stroke: '#000', 'stroke-width': 4});
  
  
});
caspaseSeparators.forEach((s, i) => {
  const sep = make('line', panelD, {x1: s[0], x2: s[1], y1: 1398.3, y2: 1398.3, stroke: '#000', 'stroke-width': 4});
  
  
});
function drawRatio(parent, x, y, len, mean, err) {
  const t = make('text', parent, {x: x, y: y, class: 'sb', 'font-size': 27, textLength: len, lengthAdjust: 'spacingAndGlyphs'});
  t.appendChild(document.createTextNode(mean));
  const pm = make('tspan', t, {style: 'font-family:"Noto Sans CJK SC",sans-serif;font-weight:normal'});
  pm.textContent = '±';
  t.appendChild(document.createTextNode(err));
  return t;
}
chopRatios.forEach((m, i) => {
  const t = drawRatio(panelD, chopValueX[i][0], 1295, chopValueX[i][1], m, chopRatioErrors[i]);
  
  
});
caspaseRatios.forEach((m, i) => {
  const t = drawRatio(panelD, caspaseValueX[i][0], 1436, caspaseValueX[i][1], m, caspaseRatioErrors[i]);
  
  
});
</script>
</svg>
</body>
</html>
